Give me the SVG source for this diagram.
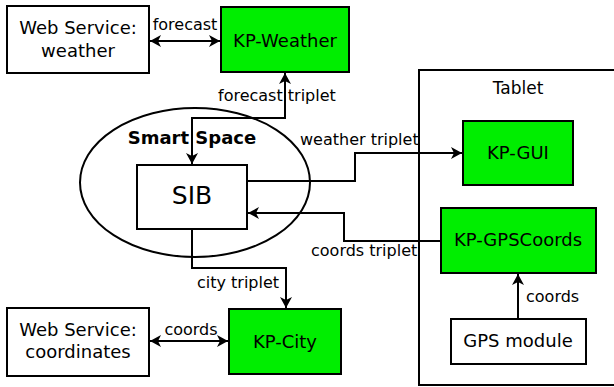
<svg xmlns="http://www.w3.org/2000/svg" width="614" height="387" viewBox="0 0 614 387">
<defs>
<style>
.box{fill:#fff;stroke:#000;stroke-width:2}
.kp{fill:#00ee00;stroke:#000;stroke-width:2}
.t{font-family:"DejaVu Sans",sans-serif;font-size:18px;fill:#000;text-anchor:middle}
.lbl{font-family:"DejaVu Sans",sans-serif;font-size:16px;fill:#000}
.c{fill:none;stroke:#000;stroke-width:2;marker-end:url(#ah)}
.bi{marker-start:url(#ah)}
</style>
<marker id="ah" markerUnits="userSpaceOnUse" markerWidth="14" markerHeight="14" viewBox="-12 -7 14 14" refX="0" refY="0" orient="auto-start-reverse">
<path d="M0,0 L-11,-6 L-8,0 L-11,6 Z" fill="#000"/>
</marker>
</defs>
<rect width="614" height="387" fill="#fff"/>
<g id="smartspace">
<ellipse cx="195" cy="182.5" rx="115" ry="74.5" fill="none" stroke="#000" stroke-width="2"/>
<text x="192" y="144" font-family="DejaVu Sans,sans-serif" font-size="18" font-weight="bold" text-anchor="middle">Smart Space</text>
</g>
<g id="tablet">
<rect x="419" y="70" width="205" height="315" fill="none" stroke="#000" stroke-width="2"/>
<text class="t" x="518" y="94" style="font-size:17px">Tablet</text>
</g>
<g id="ws-weather">
<rect class="box" x="7" y="6" width="142" height="67"/>
<text class="t" x="78" y="34">Web Service:</text>
<text class="t" x="78" y="57">weather</text>
</g>
<g id="kp-weather">
<rect class="kp" x="221" y="7" width="128" height="65"/>
<text class="t" x="285" y="47">KP-Weather</text>
</g>
<g id="sib">
<rect class="box" x="137" y="165" width="110" height="64"/>
<text class="t" x="192" y="204" style="font-size:25px">SIB</text>
</g>
<g id="kp-gui">
<rect class="kp" x="463" y="121" width="110" height="64"/>
<text class="t" x="518" y="159">KP-GUI</text>
</g>
<g id="kp-gpscoords">
<rect class="kp" x="441" y="208" width="155" height="65"/>
<text class="t" x="518" y="246">KP-GPSCoords</text>
</g>
<g id="gps-module">
<rect class="box" x="451" y="319" width="135" height="45"/>
<text class="t" x="518" y="347">GPS module</text>
</g>
<g id="ws-coordinates">
<rect class="box" x="7" y="308" width="142" height="68"/>
<text class="t" x="78" y="336">Web Service:</text>
<text class="t" x="78" y="358">coordinates</text>
</g>
<g id="kp-city">
<rect class="kp" x="229" y="309" width="112" height="65"/>
<text class="t" x="285" y="348">KP-City</text>
</g>
<g id="connectors">
<path class="c bi" d="M150,41 H220"/>
<text class="lbl" x="185" y="30" text-anchor="middle">forecast</text>
<path class="c bi" d="M285,73 V118 H192 V164"/>
<text class="lbl" x="218" y="101">forecast triplet</text>
<path class="c" d="M248,181 H355 V153 H462"/>
<text class="lbl" x="300" y="145">weather triplet</text>
<path class="c" d="M440,241 H344 V213 H248"/>
<text class="lbl" x="311" y="256">coords triplet</text>
<path class="c" d="M192,230 V268 H286 V308"/>
<text class="lbl" x="197" y="288">city triplet</text>
<path class="c" d="M518,318 V274"/>
<text class="lbl" x="526" y="302">coords</text>
<path class="c bi" d="M150,341 H228"/>
<text class="lbl" x="191" y="335" text-anchor="middle">coords</text>
</g>
</svg>
